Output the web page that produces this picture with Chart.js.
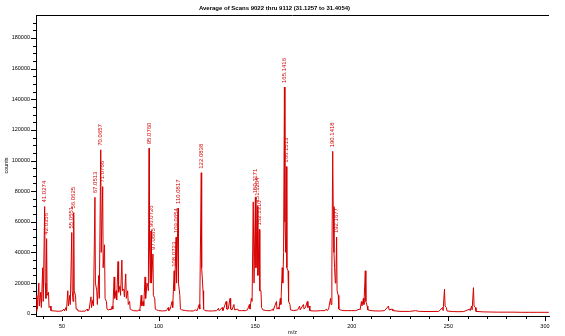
<!DOCTYPE html>
<html>
<head>
<meta charset="utf-8">
<title>Average of Scans 9022 thru 9112</title>
<script src="https://cdn.jsdelivr.net/npm/chart.js@4.4.1/dist/chart.umd.min.js"></script>
<style>
  html, body { margin: 0; padding: 0; background: #fff; }
  #wrap { width: 565px; height: 336px; }
</style>
</head>
<body>
<div id="wrap"><canvas id="spectrum"></canvas></div>
<script>
// Averaged mass spectrum (profile), m/z vs counts
const titleText = 'Average of Scans 9022 thru 9112 (31.1257 to 31.4054)';

const mz = [
  36.6, 37.0, 37.3, 38.0, 38.3, 39.0, 39.3, 40.0, 40.3, 41.0274, 41.3, 41.7, 42.0356, 42.3, 43.0, 43.3, 44.0, 44.3,
  46, 48, 50, 51, 51.3, 52, 52.3, 53.0, 53.3, 54.0, 54.3, 55.0551, 55.3, 55.7, 56.0625, 56.3, 57.0, 57.3, 58, 58.3,
  60, 62, 63, 63.3, 64, 65, 65.3, 66, 66.3, 67.0513, 67.3, 68, 68.3, 69, 69.3, 70.0657, 70.3, 71.0766, 71.3, 72, 72.3,
  73, 73.3, 74, 75, 75.3, 76, 76.3, 77, 77.3, 78, 78.3, 79, 79.3, 80, 80.3, 81, 81.3, 82, 82.3, 83, 83.3, 84, 84.3,
  85, 85.3, 86, 87, 89, 90, 90.3, 91, 91.3, 92, 92.3, 93, 93.3, 94, 94.4, 94.7, 95.0760, 95.3, 95.7, 96.0726, 96.3,
  97.0885, 97.3, 98, 98.3, 99, 100, 102, 104, 105, 105.3, 106, 107, 107.3, 108.0723, 108.3, 109.0654, 109.3,
  110.0817, 110.3, 111, 111.3, 112, 114, 116, 118, 119, 120, 121, 121.3, 122.0838, 122.3, 123, 123.3, 124, 126, 128,
  130, 131, 131.3, 133, 133.3, 135, 135.3, 136, 137, 137.3, 138, 139, 139.3, 141, 141.3, 143, 145, 146, 147, 147.3,
  148, 148.4, 149, 149.4, 150.1171, 150.4, 151.1204, 151.4, 152.1310, 152.4, 153, 153.3, 154, 156, 158, 159, 159.3,
  161, 161.3, 162, 162.3, 163, 163.3, 164, 164.3, 164.7, 165.1416, 165.4, 165.8, 166.1513, 166.4, 167, 167.3, 168,
  168.3, 170, 172, 173, 173.3, 175, 175.3, 176, 177, 177.3, 178, 178.3, 180, 182, 184, 186, 187, 187.3, 188, 189,
  189.3, 189.7, 190.1418, 190.4, 190.8, 191.1, 191.5, 191.8, 192.1677, 192.4, 193, 193.3, 194, 196, 198, 200, 202,
  204, 204.3, 205, 205.3, 206, 206.3, 207, 207.3, 208, 208.3, 210, 212, 215, 217, 219, 219.3, 221, 221.3, 225, 230,
  233, 235, 240, 245, 247, 247.3, 248, 248.3, 249, 249.3, 252, 255, 258, 261, 261.3, 262, 262.3, 263, 263.3, 264,
  264.3, 268, 272, 276, 280, 284, 288, 292, 296, 300, 302
];

const counts = [
  1500, 12000, 3000, 20000, 5000, 14000, 4000, 30000, 8000, 70000, 20000, 10000, 49000, 12000, 14000, 4000, 5000, 2000,
  1800, 1600, 1800, 3000, 1800, 4000, 2000, 15000, 5000, 12000, 6000, 53000, 15000, 8000, 66000, 15000, 12000, 3000, 3000, 1800,
  1600, 1700, 3000, 2000, 2500, 11000, 4000, 9000, 5000, 76000, 20000, 15000, 6000, 25000, 10000, 107000, 40000, 83000, 30000, 45000, 10000,
  8000, 3000, 2500, 3000, 2500, 5000, 3000, 24000, 10000, 15000, 9000, 34000, 14000, 18000, 12000, 35000, 15000, 16000, 11000, 26000, 10000, 15000, 6000,
  8000, 3000, 2500, 2000, 1800, 2500, 2000, 12000, 5000, 8000, 5000, 24000, 10000, 20000, 18000, 15000, 108000, 45000, 20000, 54000, 20000,
  39000, 12000, 10000, 3000, 2500, 2000, 1800, 2000, 4000, 2000, 3000, 8000, 4000, 28000, 15000, 50000, 20000,
  69000, 20000, 12000, 3000, 2500, 2000, 1800, 1800, 2500, 2000, 6000, 3000, 92000, 30000, 15000, 3000, 2000, 1800, 1800,
  2000, 3500, 2000, 4000, 2000, 8000, 3000, 3000, 10000, 3000, 2500, 6000, 2500, 3000, 2000, 2000, 2000, 2500, 6000, 3000,
  10000, 8000, 73000, 20000, 76000, 30000, 70000, 25000, 55000, 15000, 15000, 4000, 2500, 2000, 2000, 3000, 2000,
  8000, 3000, 4000, 3000, 10000, 6000, 30000, 20000, 40000, 148000, 60000, 40000, 96000, 30000, 28000, 8000, 6000,
  2500, 2000, 2500, 5000, 2500, 6000, 3000, 4000, 8000, 4000, 5000, 2000, 1800, 1800, 2000, 2000, 3000, 2000, 3000, 10000,
  6000, 30000, 106000, 70000, 40000, 30000, 20000, 25000, 50000, 15000, 12000, 3000, 2500, 2000, 2000, 2000, 2000,
  3000, 2500, 8000, 5000, 10000, 6000, 28000, 8000, 5000, 2500, 2000, 1800, 1800, 2000, 5000, 2500, 3000, 2000, 1500, 1500,
  2000, 1500, 1400, 1500, 4000, 2000, 16000, 5000, 4000, 1800, 1400, 1300, 1400, 3000, 2000, 5000, 2500, 17000, 5000, 4000,
  1500, 1200, 1100, 1000, 1000, 1000, 900, 900, 900, 900, 900
];

// peaks that carry an m/z label
const labelMz = [
  41.0274, 42.0356, 55.0551, 56.0625, 67.0513, 70.0657, 71.0766, 95.0760, 96.0726, 97.0885,
  108.0723, 109.0654, 110.0817, 122.0838, 150.1171, 151.1204, 152.1310, 165.1416, 166.1513,
  190.1418, 192.1677
];

// labelled tick values; unlabelled minor ticks sit between them
const xTickLabels = [50, 100, 150, 200, 250, 300];
const yTickLabels = [0, 20000, 40000, 60000, 80000, 100000, 120000, 140000, 160000, 180000];
const xMinorStep = 10, yMinorStep = 5000;

const xMin = 36.54, xMax = 302.1;
const yMin = -1500, yMax = 195000;

const RED = '#d60000';
const FONT = 'Liberation Sans, Arial, sans-serif';

function tickList(first, last, step) {
  const out = [];
  for (let v = first; v <= last; v += step) out.push({ value: v });
  return out;
}

// short ticks on every step, longer ones where a label is drawn
const axisTicks = {
  id: 'axisTicks',
  afterDraw(chart) {
    const ctx = chart.ctx;
    const xs = chart.scales.x, ys = chart.scales.y;
    const area = chart.chartArea;
    ctx.save();
    ctx.strokeStyle = '#000';
    ctx.lineWidth = 1;
    ctx.beginPath();
    ys.ticks.forEach(t => {
      const py = Math.round(ys.getPixelForValue(t.value)) + 0.5;
      const len = yTickLabels.includes(t.value) ? 5 : 3;
      ctx.moveTo(area.left - len, py);
      ctx.lineTo(area.left, py);
    });
    xs.ticks.forEach(t => {
      const px = Math.round(xs.getPixelForValue(t.value)) + 0.5;
      const len = xTickLabels.includes(t.value) ? 5 : 3;
      ctx.moveTo(px, area.bottom);
      ctx.lineTo(px, area.bottom + len);
    });
    // rule under the title
    ctx.moveTo(area.left, Math.round(area.top) + 0.5);
    ctx.lineTo(area.right, Math.round(area.top) + 0.5);
    ctx.stroke();
    ctx.restore();
  }
};

// vertical m/z labels above the labelled peaks
const peakLabels = {
  id: 'peakLabels',
  afterDatasetsDraw(chart) {
    const ctx = chart.ctx;
    const xs = chart.scales.x, ys = chart.scales.y;
    ctx.save();
    ctx.fillStyle = RED;
    ctx.font = '6px ' + FONT;
    ctx.textAlign = 'left';
    ctx.textBaseline = 'middle';
    labelMz.forEach(m => {
      const i = mz.indexOf(m);
      if (i < 0) return;
      const px = xs.getPixelForValue(m);
      const py = ys.getPixelForValue(counts[i]);
      ctx.save();
      ctx.translate(px, py - 4);
      ctx.rotate(-Math.PI / 2);
      ctx.fillText(m.toFixed(4), 0, 0);
      ctx.restore();
    });
    ctx.restore();
  }
};

new Chart(document.getElementById('spectrum'), {
  type: 'line',
  data: {
    datasets: [{
      data: mz.map((m, i) => ({ x: m, y: counts[i] })),
      borderColor: RED,
      borderWidth: 1,
      pointRadius: 0,
      tension: 0,
      fill: false
    }]
  },
  options: {
    responsive: true,
    maintainAspectRatio: false,
    animation: false,
    parsing: false,
    layout: { padding: { left: 0, right: 16, top: 0, bottom: 0 } },
    plugins: {
      legend: { display: false },
      tooltip: { enabled: false },
      title: {
        display: true,
        text: titleText,
        color: '#000',
        font: { family: FONT, size: 6 },
        padding: { top: 5, bottom: 2.8 }
      }
    },
    scales: {
      x: {
        type: 'linear',
        min: xMin,
        max: xMax,
        afterFit(scale) { scale.height = 20; },
        afterBuildTicks(scale) {
          scale.ticks = tickList(40, 300, xMinorStep);
        },
        ticks: {
          autoSkip: false,
          maxRotation: 0,
          padding: 7,
          color: '#000',
          font: { family: FONT, size: 5.5 },
          callback: v => (xTickLabels.includes(v) ? String(v) : '')
        },
        grid: { display: true, drawOnChartArea: false, drawTicks: false },
        border: { display: true, color: '#000', width: 1 },
        title: {
          display: true,
          text: 'm/z',
          color: '#000',
          font: { family: FONT, size: 5.5 },
          padding: { top: 0, bottom: 0 }
        }
      },
      y: {
        type: 'linear',
        min: yMin,
        max: yMax,
        afterFit(scale) { scale.width = 36; },
        afterBuildTicks(scale) {
          scale.ticks = tickList(0, 190000, yMinorStep);
        },
        ticks: {
          autoSkip: false,
          padding: 6,
          color: '#000',
          font: { family: FONT, size: 5.5 },
          callback: v => (yTickLabels.includes(v) ? String(v) : '')
        },
        grid: { display: true, drawOnChartArea: false, drawTicks: false },
        border: { display: true, color: '#000', width: 1 },
        title: {
          display: true,
          text: 'counts',
          color: '#000',
          font: { family: FONT, size: 5.5 },
          padding: { top: 3, bottom: 0 }
        }
      }
    }
  },
  plugins: [axisTicks, peakLabels]
});
</script>
</body>
</html>
